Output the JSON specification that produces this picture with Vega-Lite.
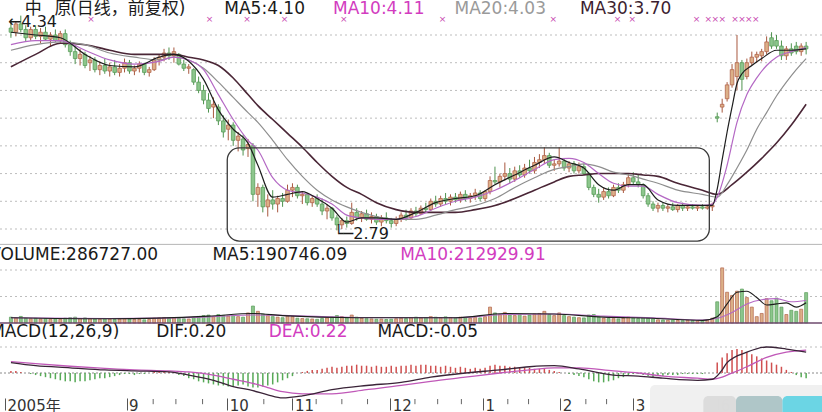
{
"$schema": "https://vega.github.io/schema/vega-lite/v6.json",
"width": 822, "height": 398, "padding": {"left": 0, "top": 0, "right": 0, "bottom": 14},
"autosize": {"type": "none"},
"background": "#ffffff",
"config": {"view": {"stroke": null}},
"resolve": {"scale": {"y": "independent", "color": "independent", "fill": "independent", "stroke": "independent"}, "axis": {"y": "independent"}},
"datasets": {
"bars": [
{"i":0,"o":4.25,"h":4.31,"l":4.18,"c":4.22,"v":55000,"m":0.02},
{"i":1,"o":4.22,"h":4.30,"l":4.19,"c":4.28,"v":48000,"m":0.02},
{"i":2,"o":4.28,"h":4.34,"l":4.22,"c":4.24,"v":62000,"m":0.01},
{"i":3,"o":4.24,"h":4.27,"l":4.15,"c":4.18,"v":45000,"m":0.0},
{"i":4,"o":4.18,"h":4.26,"l":4.16,"c":4.24,"v":40000,"m":-0.01},
{"i":5,"o":4.24,"h":4.27,"l":4.17,"c":4.19,"v":44000,"m":-0.02},
{"i":6,"o":4.19,"h":4.25,"l":4.14,"c":4.22,"v":38000,"m":-0.03},
{"i":7,"o":4.22,"h":4.26,"l":4.16,"c":4.17,"v":42000,"m":-0.04},
{"i":8,"o":4.17,"h":4.22,"l":4.12,"c":4.20,"v":36000,"m":-0.05},
{"i":9,"o":4.20,"h":4.24,"l":4.15,"c":4.16,"v":40000,"m":-0.06},
{"i":10,"o":4.16,"h":4.23,"l":4.14,"c":4.21,"v":35000,"m":-0.07},
{"i":11,"o":4.21,"h":4.24,"l":4.11,"c":4.13,"v":45000,"m":-0.08},
{"i":12,"o":4.13,"h":4.16,"l":4.05,"c":4.08,"v":50000,"m":-0.08},
{"i":13,"o":4.08,"h":4.12,"l":3.99,"c":4.03,"v":55000,"m":-0.09},
{"i":14,"o":4.03,"h":4.10,"l":3.98,"c":4.06,"v":42000,"m":-0.08},
{"i":15,"o":4.06,"h":4.08,"l":3.96,"c":3.98,"v":48000,"m":-0.08},
{"i":16,"o":4.00,"h":4.05,"l":3.94,"c":4.02,"v":40000,"m":-0.07},
{"i":17,"o":4.02,"h":4.04,"l":3.93,"c":3.95,"v":38000,"m":-0.06},
{"i":18,"o":3.95,"h":4.01,"l":3.91,"c":3.98,"v":35000,"m":-0.05},
{"i":19,"o":3.98,"h":4.03,"l":3.92,"c":3.94,"v":40000,"m":-0.05},
{"i":20,"o":3.94,"h":4.00,"l":3.90,"c":3.97,"v":36000,"m":-0.04},
{"i":21,"o":3.97,"h":4.02,"l":3.91,"c":3.93,"v":33000,"m":-0.03},
{"i":22,"o":3.93,"h":3.99,"l":3.90,"c":3.96,"v":38000,"m":-0.02},
{"i":23,"o":3.96,"h":4.03,"l":3.93,"c":4.00,"v":42000,"m":-0.01},
{"i":24,"o":4.00,"h":4.02,"l":3.92,"c":3.94,"v":36000,"m":-0.01},
{"i":25,"o":3.94,"h":3.98,"l":3.91,"c":3.96,"v":32000,"m":-0.02},
{"i":26,"o":3.96,"h":4.01,"l":3.93,"c":3.99,"v":35000,"m":-0.01},
{"i":27,"o":3.99,"h":4.00,"l":3.91,"c":3.93,"v":30000,"m":-0.01},
{"i":28,"o":3.93,"h":3.97,"l":3.90,"c":3.95,"v":34000,"m":0.0},
{"i":29,"o":3.95,"h":4.04,"l":3.94,"c":4.02,"v":45000,"m":0.01},
{"i":30,"o":4.02,"h":4.06,"l":3.98,"c":4.04,"v":48000,"m":0.01},
{"i":31,"o":4.04,"h":4.10,"l":4.01,"c":4.07,"v":52000,"m":0.02},
{"i":32,"o":4.07,"h":4.11,"l":4.02,"c":4.05,"v":46000,"m":0.01},
{"i":33,"o":4.05,"h":4.11,"l":4.00,"c":4.08,"v":50000,"m":0.0},
{"i":34,"o":4.06,"h":4.07,"l":3.98,"c":3.99,"v":44000,"m":-0.02},
{"i":35,"o":3.99,"h":4.02,"l":3.94,"c":3.96,"v":40000,"m":-0.03},
{"i":36,"o":3.96,"h":3.99,"l":3.92,"c":3.97,"v":38000,"m":-0.05},
{"i":37,"o":3.95,"h":3.96,"l":3.84,"c":3.86,"v":55000,"m":-0.06},
{"i":38,"o":3.86,"h":3.90,"l":3.78,"c":3.80,"v":62000,"m":-0.08},
{"i":39,"o":3.80,"h":3.84,"l":3.70,"c":3.73,"v":70000,"m":-0.09},
{"i":40,"o":3.73,"h":3.78,"l":3.64,"c":3.67,"v":75000,"m":-0.10},
{"i":41,"o":3.68,"h":3.75,"l":3.60,"c":3.70,"v":60000,"m":-0.11},
{"i":42,"o":3.68,"h":3.70,"l":3.55,"c":3.58,"v":80000,"m":-0.12},
{"i":43,"o":3.58,"h":3.62,"l":3.46,"c":3.50,"v":72000,"m":-0.12},
{"i":44,"o":3.52,"h":3.59,"l":3.44,"c":3.55,"v":65000,"m":-0.13},
{"i":45,"o":3.55,"h":3.57,"l":3.40,"c":3.44,"v":70000,"m":-0.13},
{"i":46,"o":3.44,"h":3.50,"l":3.36,"c":3.47,"v":60000,"m":-0.12},
{"i":47,"o":3.45,"h":3.48,"l":3.33,"c":3.37,"v":55000,"m":-0.11},
{"i":48,"o":3.38,"h":3.45,"l":3.32,"c":3.41,"v":95000,"m":-0.13},
{"i":49,"o":3.40,"h":3.42,"l":3.00,"c":3.05,"v":160000,"m":-0.14},
{"i":50,"o":3.05,"h":3.13,"l":2.96,"c":3.10,"v":110000,"m":-0.14},
{"i":51,"o":3.10,"h":3.12,"l":2.92,"c":2.96,"v":85000,"m":-0.13},
{"i":52,"o":2.96,"h":3.05,"l":2.89,"c":3.01,"v":70000,"m":-0.12},
{"i":53,"o":3.01,"h":3.08,"l":2.94,"c":2.98,"v":60000,"m":-0.11},
{"i":54,"o":2.98,"h":3.04,"l":2.92,"c":3.02,"v":55000,"m":-0.09},
{"i":55,"o":3.02,"h":3.06,"l":2.96,"c":3.00,"v":50000,"m":-0.07},
{"i":56,"o":3.00,"h":3.12,"l":2.99,"c":3.08,"v":65000,"m":-0.05},
{"i":57,"o":3.08,"h":3.13,"l":3.03,"c":3.10,"v":60000,"m":-0.03},
{"i":58,"o":3.10,"h":3.12,"l":3.02,"c":3.04,"v":45000,"m":0.0},
{"i":59,"o":3.04,"h":3.07,"l":2.98,"c":3.05,"v":42000,"m":0.01},
{"i":60,"o":3.05,"h":3.06,"l":2.97,"c":2.99,"v":40000,"m":0.02},
{"i":61,"o":2.99,"h":3.04,"l":2.96,"c":3.02,"v":38000,"m":0.03},
{"i":62,"o":3.02,"h":3.05,"l":2.96,"c":2.98,"v":35000,"m":0.03},
{"i":63,"o":2.98,"h":3.02,"l":2.90,"c":2.93,"v":42000,"m":0.04},
{"i":64,"o":2.93,"h":2.98,"l":2.87,"c":2.95,"v":48000,"m":0.05},
{"i":65,"o":2.95,"h":2.96,"l":2.86,"c":2.88,"v":55000,"m":0.06},
{"i":66,"o":2.88,"h":2.90,"l":2.79,"c":2.83,"v":70000,"m":0.05},
{"i":67,"o":2.83,"h":2.88,"l":2.80,"c":2.86,"v":60000,"m":0.06},
{"i":68,"o":2.86,"h":2.89,"l":2.81,"c":2.84,"v":50000,"m":0.07},
{"i":69,"o":2.84,"h":2.99,"l":2.83,"c":2.92,"v":75000,"m":0.07},
{"i":70,"o":2.92,"h":2.95,"l":2.86,"c":2.88,"v":55000,"m":0.08},
{"i":71,"o":2.88,"h":2.93,"l":2.85,"c":2.91,"v":45000,"m":0.07},
{"i":72,"o":2.91,"h":2.94,"l":2.86,"c":2.87,"v":40000,"m":0.07},
{"i":73,"o":2.87,"h":2.92,"l":2.84,"c":2.89,"v":38000,"m":0.06},
{"i":74,"o":2.89,"h":2.91,"l":2.83,"c":2.85,"v":35000,"m":0.07},
{"i":75,"o":2.85,"h":2.90,"l":2.82,"c":2.88,"v":36000,"m":0.06},
{"i":76,"o":2.88,"h":2.92,"l":2.84,"c":2.86,"v":33000,"m":0.06},
{"i":77,"o":2.86,"h":2.88,"l":2.81,"c":2.84,"v":35000,"m":0.07},
{"i":78,"o":2.84,"h":2.89,"l":2.82,"c":2.87,"v":40000,"m":0.06},
{"i":79,"o":2.87,"h":2.92,"l":2.85,"c":2.90,"v":45000,"m":0.07},
{"i":80,"o":2.90,"h":2.94,"l":2.86,"c":2.88,"v":42000,"m":0.07},
{"i":81,"o":2.88,"h":2.95,"l":2.87,"c":2.93,"v":50000,"m":0.08},
{"i":82,"o":2.93,"h":2.96,"l":2.89,"c":2.91,"v":55000,"m":0.07},
{"i":83,"o":2.91,"h":2.97,"l":2.90,"c":2.95,"v":48000,"m":0.08},
{"i":84,"o":2.95,"h":2.99,"l":2.92,"c":2.94,"v":52000,"m":0.08},
{"i":85,"o":2.94,"h":3.02,"l":2.93,"c":3.00,"v":60000,"m":0.07},
{"i":86,"o":3.00,"h":3.04,"l":2.96,"c":2.98,"v":55000,"m":0.07},
{"i":87,"o":2.98,"h":3.04,"l":2.96,"c":3.02,"v":50000,"m":0.06},
{"i":88,"o":3.02,"h":3.06,"l":2.98,"c":3.00,"v":58000,"m":0.07},
{"i":89,"o":3.00,"h":3.05,"l":2.97,"c":3.03,"v":52000,"m":0.06},
{"i":90,"o":3.03,"h":3.06,"l":2.99,"c":3.01,"v":48000,"m":0.05},
{"i":91,"o":3.01,"h":3.07,"l":2.99,"c":3.05,"v":55000,"m":0.06},
{"i":92,"o":3.05,"h":3.08,"l":3.00,"c":3.02,"v":50000,"m":0.05},
{"i":93,"o":3.02,"h":3.06,"l":2.99,"c":3.04,"v":45000,"m":0.04},
{"i":94,"o":3.04,"h":3.09,"l":3.01,"c":3.06,"v":52000,"m":0.05},
{"i":95,"o":3.06,"h":3.08,"l":3.00,"c":3.02,"v":48000,"m":0.04},
{"i":96,"o":3.02,"h":3.08,"l":3.00,"c":3.07,"v":60000,"m":0.05},
{"i":97,"o":3.07,"h":3.18,"l":3.05,"c":3.15,"v":150000,"m":0.07},
{"i":98,"o":3.15,"h":3.25,"l":3.12,"c":3.14,"v":95000,"m":0.08},
{"i":99,"o":3.14,"h":3.20,"l":3.10,"c":3.18,"v":80000,"m":0.07},
{"i":100,"o":3.18,"h":3.28,"l":3.15,"c":3.20,"v":100000,"m":0.07},
{"i":101,"o":3.20,"h":3.24,"l":3.13,"c":3.16,"v":75000,"m":0.06},
{"i":102,"o":3.16,"h":3.25,"l":3.14,"c":3.22,"v":70000,"m":0.06},
{"i":103,"o":3.22,"h":3.26,"l":3.17,"c":3.19,"v":80000,"m":0.05},
{"i":104,"o":3.19,"h":3.27,"l":3.17,"c":3.24,"v":65000,"m":0.05},
{"i":105,"o":3.24,"h":3.30,"l":3.20,"c":3.22,"v":75000,"m":0.05},
{"i":106,"o":3.22,"h":3.32,"l":3.20,"c":3.28,"v":85000,"m":0.04},
{"i":107,"o":3.28,"h":3.34,"l":3.24,"c":3.30,"v":90000,"m":0.04},
{"i":108,"o":3.30,"h":3.39,"l":3.27,"c":3.33,"v":110000,"m":0.04},
{"i":109,"o":3.33,"h":3.35,"l":3.24,"c":3.26,"v":80000,"m":0.03},
{"i":110,"o":3.26,"h":3.30,"l":3.22,"c":3.27,"v":70000,"m":0.02},
{"i":111,"o":3.27,"h":3.39,"l":3.25,"c":3.29,"v":95000,"m":0.01},
{"i":112,"o":3.29,"h":3.31,"l":3.22,"c":3.24,"v":70000,"m":0.0},
{"i":113,"o":3.24,"h":3.29,"l":3.21,"c":3.27,"v":60000,"m":-0.01},
{"i":114,"o":3.27,"h":3.29,"l":3.20,"c":3.22,"v":55000,"m":-0.02},
{"i":115,"o":3.22,"h":3.28,"l":3.20,"c":3.25,"v":50000,"m":-0.03},
{"i":116,"o":3.25,"h":3.27,"l":3.19,"c":3.20,"v":48000,"m":-0.04},
{"i":117,"o":3.20,"h":3.21,"l":3.08,"c":3.10,"v":75000,"m":-0.06},
{"i":118,"o":3.10,"h":3.12,"l":3.03,"c":3.05,"v":80000,"m":-0.08},
{"i":119,"o":3.05,"h":3.09,"l":2.99,"c":3.03,"v":55000,"m":-0.09},
{"i":120,"o":3.03,"h":3.10,"l":3.01,"c":3.07,"v":45000,"m":-0.09},
{"i":121,"o":3.07,"h":3.10,"l":3.02,"c":3.04,"v":42000,"m":-0.08},
{"i":122,"o":3.04,"h":3.12,"l":3.03,"c":3.10,"v":40000,"m":-0.07},
{"i":123,"o":3.10,"h":3.13,"l":3.06,"c":3.08,"v":38000,"m":-0.05},
{"i":124,"o":3.08,"h":3.14,"l":3.06,"c":3.12,"v":45000,"m":-0.04},
{"i":125,"o":3.12,"h":3.20,"l":3.10,"c":3.17,"v":55000,"m":-0.02},
{"i":126,"o":3.17,"h":3.21,"l":3.12,"c":3.14,"v":48000,"m":-0.01},
{"i":127,"o":3.14,"h":3.19,"l":3.10,"c":3.12,"v":42000,"m":-0.01},
{"i":128,"o":3.12,"h":3.13,"l":3.02,"c":3.04,"v":50000,"m":-0.02},
{"i":129,"o":3.04,"h":3.06,"l":2.96,"c":2.98,"v":45000,"m":-0.03},
{"i":130,"o":2.98,"h":3.00,"l":2.93,"c":2.95,"v":40000,"m":-0.04},
{"i":131,"o":2.95,"h":2.99,"l":2.92,"c":2.97,"v":30000,"m":-0.03},
{"i":132,"o":2.97,"h":2.99,"l":2.93,"c":2.95,"v":28000,"m":-0.03},
{"i":133,"o":2.95,"h":2.98,"l":2.92,"c":2.96,"v":25000,"m":-0.02},
{"i":134,"o":2.96,"h":2.99,"l":2.93,"c":2.94,"v":27000,"m":-0.02},
{"i":135,"o":2.94,"h":2.98,"l":2.92,"c":2.97,"v":24000,"m":-0.02},
{"i":136,"o":2.97,"h":2.99,"l":2.93,"c":2.95,"v":22000,"m":-0.01},
{"i":137,"o":2.95,"h":2.97,"l":2.93,"c":2.96,"v":25000,"m":-0.01},
{"i":138,"o":2.96,"h":2.98,"l":2.94,"c":2.95,"v":23000,"m":-0.01},
{"i":139,"o":2.95,"h":2.97,"l":2.93,"c":2.96,"v":20000,"m":-0.01},
{"i":140,"o":2.96,"h":2.98,"l":2.94,"c":2.95,"v":22000,"m":-0.01},
{"i":141,"o":2.95,"h":2.97,"l":2.94,"c":2.96,"v":26000,"m":0.0},
{"i":142,"o":2.96,"h":2.99,"l":2.93,"c":2.97,"v":45000,"m":0.0},
{"i":143,"o":3.61,"h":3.64,"l":3.57,"c":3.60,"v":200000,"m":0.10},
{"i":144,"o":3.68,"h":3.74,"l":3.64,"c":3.70,"v":520000,"m":0.15},
{"i":145,"o":3.74,"h":3.86,"l":3.72,"c":3.84,"v":290000,"m":0.19},
{"i":146,"o":3.84,"h":3.99,"l":3.82,"c":3.95,"v":260000,"m":0.22},
{"i":147,"o":3.90,"h":4.20,"l":3.80,"c":4.00,"v":300000,"m":0.23},
{"i":148,"o":4.00,"h":4.02,"l":3.80,"c":3.88,"v":320000,"m":0.22},
{"i":149,"o":3.90,"h":4.03,"l":3.88,"c":4.00,"v":240000,"m":0.20},
{"i":150,"o":4.00,"h":4.08,"l":3.98,"c":4.04,"v":150000,"m":0.18},
{"i":151,"o":4.04,"h":4.08,"l":4.00,"c":4.06,"v":60000,"m":0.16},
{"i":152,"o":4.05,"h":4.10,"l":4.01,"c":4.08,"v":90000,"m":0.14},
{"i":153,"o":4.08,"h":4.19,"l":4.06,"c":4.15,"v":230000,"m":0.12},
{"i":154,"o":4.18,"h":4.22,"l":4.10,"c":4.12,"v":210000,"m":0.10},
{"i":155,"o":4.16,"h":4.20,"l":4.10,"c":4.12,"v":235000,"m":0.08},
{"i":156,"o":4.12,"h":4.16,"l":4.02,"c":4.05,"v":150000,"m":0.06},
{"i":157,"o":4.05,"h":4.12,"l":4.02,"c":4.10,"v":80000,"m":0.03},
{"i":158,"o":4.10,"h":4.14,"l":4.05,"c":4.07,"v":120000,"m":0.01},
{"i":159,"o":4.12,"h":4.15,"l":4.06,"c":4.08,"v":110000,"m":-0.02},
{"i":160,"o":4.08,"h":4.14,"l":4.05,"c":4.12,"v":130000,"m":-0.04},
{"i":161,"o":4.12,"h":4.15,"l":4.06,"c":4.10,"v":286727,"m":-0.05}
],
"ma5": [{"i":0,"p":4.22},{"i":5,"p":4.20},{"i":10,"p":4.18},{"i":15,"p":4.06},{"i":20,"p":3.98},{"i":25,"p":3.97},{"i":30,"p":4.04},{"i":33,"p":4.06},{"i":36,"p":4.01},{"i":39,"p":3.88},{"i":42,"p":3.66},{"i":45,"p":3.52},{"i":48,"p":3.42},{"i":50,"p":3.26},{"i":53,"p":3.03},{"i":56,"p":3.05},{"i":59,"p":3.07},{"i":62,"p":3.02},{"i":65,"p":2.95},{"i":68,"p":2.85},{"i":71,"p":2.88},{"i":74,"p":2.88},{"i":78,"p":2.87},{"i":82,"p":2.92},{"i":86,"p":2.99},{"i":90,"p":3.02},{"i":94,"p":3.04},{"i":98,"p":3.12},{"i":102,"p":3.19},{"i":106,"p":3.26},{"i":110,"p":3.32},{"i":113,"p":3.28},{"i":116,"p":3.24},{"i":119,"p":3.12},{"i":122,"p":3.08},{"i":125,"p":3.12},{"i":128,"p":3.12},{"i":131,"p":3.01},{"i":135,"p":2.97},{"i":140,"p":2.97},{"i":142,"p":2.97},{"i":143,"p":3.09},{"i":144,"p":3.30},{"i":145,"p":3.50},{"i":146,"p":3.68},{"i":147,"p":3.85},{"i":148,"p":3.92},{"i":150,"p":3.98},{"i":152,"p":4.03},{"i":155,"p":4.09},{"i":158,"p":4.09},{"i":161,"p":4.10}],
"ma10": [{"i":0,"p":4.13},{"i":5,"p":4.16},{"i":10,"p":4.16},{"i":15,"p":4.09},{"i":20,"p":4.02},{"i":25,"p":3.99},{"i":30,"p":4.01},{"i":33,"p":4.04},{"i":36,"p":4.02},{"i":39,"p":3.95},{"i":42,"p":3.77},{"i":45,"p":3.59},{"i":48,"p":3.44},{"i":50,"p":3.37},{"i":53,"p":3.17},{"i":56,"p":3.08},{"i":59,"p":3.06},{"i":62,"p":3.03},{"i":65,"p":2.98},{"i":68,"p":2.90},{"i":71,"p":2.88},{"i":74,"p":2.87},{"i":78,"p":2.87},{"i":82,"p":2.89},{"i":86,"p":2.95},{"i":90,"p":3.00},{"i":94,"p":3.03},{"i":98,"p":3.08},{"i":102,"p":3.15},{"i":106,"p":3.23},{"i":110,"p":3.30},{"i":113,"p":3.31},{"i":116,"p":3.28},{"i":119,"p":3.20},{"i":122,"p":3.13},{"i":125,"p":3.11},{"i":128,"p":3.11},{"i":131,"p":3.05},{"i":135,"p":2.99},{"i":140,"p":2.97},{"i":142,"p":2.98},{"i":143,"p":3.03},{"i":145,"p":3.26},{"i":147,"p":3.57},{"i":149,"p":3.77},{"i":151,"p":3.89},{"i":153,"p":3.98},{"i":155,"p":4.04},{"i":158,"p":4.08},{"i":161,"p":4.11}],
"ma20": [{"i":0,"p":4.09},{"i":5,"p":4.13},{"i":10,"p":4.15},{"i":15,"p":4.13},{"i":20,"p":4.07},{"i":25,"p":4.04},{"i":30,"p":4.02},{"i":33,"p":4.04},{"i":36,"p":4.02},{"i":39,"p":3.96},{"i":42,"p":3.86},{"i":45,"p":3.75},{"i":48,"p":3.64},{"i":50,"p":3.57},{"i":53,"p":3.44},{"i":56,"p":3.30},{"i":59,"p":3.18},{"i":62,"p":3.08},{"i":65,"p":3.01},{"i":68,"p":2.96},{"i":71,"p":2.92},{"i":74,"p":2.89},{"i":78,"p":2.87},{"i":82,"p":2.87},{"i":86,"p":2.90},{"i":90,"p":2.94},{"i":94,"p":2.97},{"i":98,"p":3.02},{"i":102,"p":3.10},{"i":106,"p":3.17},{"i":110,"p":3.23},{"i":113,"p":3.25},{"i":116,"p":3.27},{"i":119,"p":3.25},{"i":122,"p":3.21},{"i":125,"p":3.19},{"i":128,"p":3.16},{"i":131,"p":3.13},{"i":135,"p":3.08},{"i":140,"p":3.05},{"i":143,"p":3.03},{"i":145,"p":3.12},{"i":147,"p":3.24},{"i":149,"p":3.37},{"i":151,"p":3.52},{"i":153,"p":3.64},{"i":155,"p":3.76},{"i":157,"p":3.86},{"i":159,"p":3.95},{"i":161,"p":4.03}],
"ma30": [{"i":0,"p":3.97},{"i":5,"p":4.06},{"i":10,"p":4.14},{"i":15,"p":4.13},{"i":20,"p":4.09},{"i":25,"p":4.06},{"i":30,"p":4.06},{"i":33,"p":4.06},{"i":36,"p":4.04},{"i":39,"p":4.02},{"i":42,"p":3.98},{"i":45,"p":3.89},{"i":48,"p":3.77},{"i":50,"p":3.69},{"i":53,"p":3.59},{"i":56,"p":3.49},{"i":59,"p":3.39},{"i":62,"p":3.28},{"i":65,"p":3.18},{"i":68,"p":3.10},{"i":71,"p":3.05},{"i":74,"p":2.99},{"i":78,"p":2.94},{"i":82,"p":2.92},{"i":86,"p":2.92},{"i":90,"p":2.92},{"i":94,"p":2.94},{"i":98,"p":2.97},{"i":102,"p":3.02},{"i":106,"p":3.08},{"i":110,"p":3.14},{"i":113,"p":3.18},{"i":116,"p":3.19},{"i":119,"p":3.20},{"i":122,"p":3.20},{"i":125,"p":3.20},{"i":128,"p":3.19},{"i":131,"p":3.18},{"i":135,"p":3.13},{"i":140,"p":3.08},{"i":143,"p":3.05},{"i":146,"p":3.12},{"i":149,"p":3.21},{"i":152,"p":3.31},{"i":155,"p":3.42},{"i":158,"p":3.55},{"i":161,"p":3.70}],
"vma5": [{"i":0,"v":50000},{"i":20,"v":40000},{"i":40,"v":65000},{"i":49,"v":90000},{"i":55,"v":70000},{"i":70,"v":50000},{"i":90,"v":50000},{"i":100,"v":90000},{"i":110,"v":85000},{"i":120,"v":55000},{"i":130,"v":45000},{"i":140,"v":25000},{"i":143,"v":60000},{"i":145,"v":180000},{"i":147,"v":290000},{"i":149,"v":300000},{"i":151,"v":240000},{"i":153,"v":170000},{"i":155,"v":180000},{"i":157,"v":190000},{"i":159,"v":150000},{"i":161,"v":190746}],
"vma10": [{"i":0,"v":50000},{"i":20,"v":42000},{"i":40,"v":58000},{"i":49,"v":75000},{"i":55,"v":72000},{"i":70,"v":52000},{"i":90,"v":50000},{"i":100,"v":80000},{"i":110,"v":85000},{"i":120,"v":65000},{"i":130,"v":48000},{"i":140,"v":28000},{"i":143,"v":45000},{"i":146,"v":100000},{"i":149,"v":180000},{"i":152,"v":220000},{"i":155,"v":230000},{"i":158,"v":200000},{"i":161,"v":212930}],
"dif": [{"i":0,"m":0.10},{"i":5,"m":0.07},{"i":12,"m":0.05},{"i":19,"m":0.03},{"i":25,"m":0.02},{"i":32,"m":0.01},{"i":36,"m":-0.02},{"i":41,"m":-0.07},{"i":45,"m":-0.13},{"i":49,"m":-0.17},{"i":52,"m":-0.21},{"i":55,"m":-0.24},{"i":59,"m":-0.22},{"i":65,"m":-0.16},{"i":72,"m":-0.12},{"i":79,"m":-0.09},{"i":85,"m":-0.04},{"i":92,"m":0.0},{"i":99,"m":0.03},{"i":105,"m":0.06},{"i":110,"m":0.07},{"i":115,"m":0.04},{"i":122,"m":-0.02},{"i":127,"m":-0.03},{"i":132,"m":-0.05},{"i":139,"m":-0.07},{"i":142,"m":-0.06},{"i":144,"m":0.03},{"i":145,"m":0.10},{"i":149,"m":0.20},{"i":153,"m":0.25},{"i":157,"m":0.23},{"i":161,"m":0.20}],
"dea": [{"i":0,"m":0.11},{"i":5,"m":0.09},{"i":12,"m":0.065},{"i":19,"m":0.045},{"i":25,"m":0.03},{"i":32,"m":0.02},{"i":36,"m":0.01},{"i":41,"m":-0.02},{"i":45,"m":-0.06},{"i":49,"m":-0.10},{"i":52,"m":-0.14},{"i":55,"m":-0.18},{"i":59,"m":-0.20},{"i":65,"m":-0.20},{"i":72,"m":-0.16},{"i":79,"m":-0.12},{"i":85,"m":-0.08},{"i":92,"m":-0.04},{"i":99,"m":0.0},{"i":105,"m":0.03},{"i":110,"m":0.05},{"i":115,"m":0.05},{"i":122,"m":0.02},{"i":127,"m":0.0},{"i":132,"m":-0.03},{"i":139,"m":-0.05},{"i":142,"m":-0.06},{"i":144,"m":-0.04},{"i":145,"m":-0.02},{"i":149,"m":0.06},{"i":153,"m":0.15},{"i":157,"m":0.20},{"i":161,"m":0.22}],
"hp": [{"i":2.8,"t":"中","s":"k"},{"i":8.8,"t":"原","s":"k"},{"i":12,"t":"(日线，前复权)","s":"k"},{"i":43.2,"t":"MA5:4.10","s":"k"},{"i":65.2,"t":"MA10:4.11","s":"m"},{"i":89.8,"t":"MA20:4.03","s":"g"},{"i":115.2,"t":"MA30:3.70","s":"d"}],
"hv": [{"i":-4.4,"t":"VOLUME:286727.00","s":"k"},{"i":40.8,"t":"MA5:190746.09","s":"k"},{"i":78.8,"t":"MA10:212929.91","s":"m"}],
"hm": [{"i":-4.2,"t":"MACD(12,26,9)","s":"k"},{"i":29.4,"t":"DIF:0.20","s":"k"},{"i":52.2,"t":"DEA:0.22","s":"m"},{"i":74.2,"t":"MACD:-0.05","s":"k"}],
"mk": [{"i":16.2},{"i":40.2},{"i":47.8},{"i":55.4},{"i":67.4},{"i":87.4},{"i":109.8},{"i":122.8},{"i":125.8},{"i":138.8},{"i":141.2},{"i":142.6},{"i":144},{"i":146.6},{"i":148},{"i":149.4},{"i":150.8}],
"lbl": [{"i":-0.6,"p":4.294,"t":"←4.34"},{"i":65.4,"p":2.764,"t":"└─2.79"}],
"box": [{"i":43.8,"i2":141.4,"p":3.385,"p2":2.713}],
"wm": [{"i":129.4,"i2":165,"m":-0.115,"m2":-0.45,"k":"a"},{"i":140.2,"i2":146.8,"m":-0.221,"m2":-0.45,"k":"b"},{"i":146.8,"i2":156.2,"m":-0.221,"m2":-0.45,"k":"c"},{"i":156.2,"i2":165,"m":-0.221,"m2":-0.45,"k":"d"}],
"minor": [{"i":28.8},{"i":33.4},{"i":38.8},{"i":51.2},{"i":61.8},{"i":67},{"i":72.2},{"i":81.8},{"i":86.4},{"i":91.2},{"i":100.6},{"i":104.8},{"i":116.4},{"i":120.6}],
"gp": [{"p":4.2},{"p":4.0},{"p":3.8},{"p":3.6},{"p":3.4},{"p":3.2},{"p":3.0},{"p":2.8}],
"gv": [{"v":250000},{"v":500000}],
"gm": [{"m":0.25}]
},
"layer": [
{"data": {"name": "gp"}, "mark": {"type": "rule", "strokeDash": [2, 3], "color": "#bdbdbd", "strokeWidth": 1},
 "encoding": {"y": {"field": "p", "type": "quantitative", "scale": {"domain": [2.8, 4.2], "range": [229, 35], "nice": false, "zero": false}, "axis": null}}},
{"data": {"name": "gv"}, "mark": {"type": "rule", "strokeDash": [2, 3], "color": "#bdbdbd", "strokeWidth": 1},
 "encoding": {"y": {"field": "v", "type": "quantitative", "scale": {"domain": [0, 500000], "range": [323, 270], "nice": false, "zero": false}, "axis": null}}},
{"data": {"name": "gm"}, "mark": {"type": "rule", "strokeDash": [2, 3], "color": "#bdbdbd", "strokeWidth": 1},
 "encoding": {"y": {"field": "m", "type": "quantitative", "scale": {"domain": [0, 0.25], "range": [373, 347], "nice": false, "zero": false}, "axis": null}}},
{"data": {"values": [{"m": 0}]}, "mark": {"type": "rule", "strokeDash": [2, 2], "color": "#8a8a8a", "strokeWidth": 1},
 "encoding": {"y": {"field": "m", "type": "quantitative", "scale": {"domain": [0, 0.25], "range": [373, 347], "nice": false, "zero": false}, "axis": null}}},
{"data": {"values": [{"p": 2.689}]}, "mark": {"type": "rule", "color": "#b5b5b5", "strokeWidth": 1},
 "encoding": {"y": {"field": "p", "type": "quantitative", "scale": {"domain": [2.8, 4.2], "range": [229, 35], "nice": false, "zero": false}, "axis": null}}},
{"data": {"name": "bars"}, "mark": {"type": "rule", "strokeWidth": 1},
 "encoding": {
  "x": {"field": "i", "type": "quantitative", "scale": {"domain": [-1.2, 163.2], "nice": false, "zero": false}, "axis": {"values": [-1.2, 23.4, 43.8, 57, 76.8, 95.6, 111.2, 126, 143.2], "title": null, "domain": false, "grid": false, "tickSize": 12, "tickColor": "#555555", "tickWidth": 1, "labelAlign": "left", "labelBaseline": "top", "labelPadding": -12, "labelOffset": 2, "labelFont": "DejaVu Sans, Noto Sans CJK SC", "labelFontSize": 15, "labelColor": "#333333", "labelOverlap": false, "labelBound": false, "labelFlush": false, "labelExpr": "datum.value < 0 ? '2005年' : datum.value < 30 ? '9' : datum.value < 50 ? '10' : datum.value < 60 ? '11' : datum.value < 80 ? '12' : datum.value < 100 ? '1' : datum.value < 115 ? '2' : datum.value < 130 ? '3' : '6'"}},
  "y": {"field": "l", "type": "quantitative", "scale": {"domain": [2.8, 4.2], "range": [229, 35], "nice": false, "zero": false}, "axis": null},
  "y2": {"field": "h"},
  "color": {"condition": {"test": "datum.c >= datum.o", "value": "#a8583f"}, "value": "#4e924e"}}},
{"data": {"name": "bars"}, "mark": {"type": "bar", "size": 3.6, "strokeWidth": 0.8, "orient": "vertical"},
 "encoding": {
  "x": {"field": "i", "type": "quantitative", "scale": {"domain": [-1.2, 163.2], "nice": false, "zero": false}, "axis": {"values": [-1.2, 23.4, 43.8, 57, 76.8, 95.6, 111.2, 126, 143.2], "title": null, "domain": false, "grid": false, "tickSize": 12, "tickColor": "#555555", "tickWidth": 1, "labelAlign": "left", "labelBaseline": "top", "labelPadding": -12, "labelOffset": 2, "labelFont": "DejaVu Sans, Noto Sans CJK SC", "labelFontSize": 15, "labelColor": "#333333", "labelOverlap": false, "labelBound": false, "labelFlush": false, "labelExpr": "datum.value < 0 ? '2005年' : datum.value < 30 ? '9' : datum.value < 50 ? '10' : datum.value < 60 ? '11' : datum.value < 80 ? '12' : datum.value < 100 ? '1' : datum.value < 115 ? '2' : datum.value < 130 ? '3' : '6'"}},
  "y": {"field": "o", "type": "quantitative", "scale": {"domain": [2.8, 4.2], "range": [229, 35], "nice": false, "zero": false}, "axis": null},
  "y2": {"field": "c"},
  "fill": {"condition": {"test": "datum.c >= datum.o", "value": "#dcb088"}, "value": "#8cc68c"},
  "stroke": {"condition": {"test": "datum.c >= datum.o", "value": "#b4644c"}, "value": "#5a9e5a"}}},
{"data": {"name": "ma30"}, "mark": {"type": "line", "color": "#4a2636", "strokeWidth": 1.6, "interpolate": "monotone"},
 "encoding": {
  "x": {"field": "i", "type": "quantitative", "scale": {"domain": [-1.2, 163.2], "nice": false, "zero": false}, "axis": {"values": [-1.2, 23.4, 43.8, 57, 76.8, 95.6, 111.2, 126, 143.2], "title": null, "domain": false, "grid": false, "tickSize": 12, "tickColor": "#555555", "tickWidth": 1, "labelAlign": "left", "labelBaseline": "top", "labelPadding": -12, "labelOffset": 2, "labelFont": "DejaVu Sans, Noto Sans CJK SC", "labelFontSize": 15, "labelColor": "#333333", "labelOverlap": false, "labelBound": false, "labelFlush": false, "labelExpr": "datum.value < 0 ? '2005年' : datum.value < 30 ? '9' : datum.value < 50 ? '10' : datum.value < 60 ? '11' : datum.value < 80 ? '12' : datum.value < 100 ? '1' : datum.value < 115 ? '2' : datum.value < 130 ? '3' : '6'"}},
  "y": {"field": "p", "type": "quantitative", "scale": {"domain": [2.8, 4.2], "range": [229, 35], "nice": false, "zero": false}, "axis": null}}},
{"data": {"name": "ma20"}, "mark": {"type": "line", "color": "#8e8e8e", "strokeWidth": 1.2, "interpolate": "monotone"},
 "encoding": {
  "x": {"field": "i", "type": "quantitative", "scale": {"domain": [-1.2, 163.2], "nice": false, "zero": false}, "axis": {"values": [-1.2, 23.4, 43.8, 57, 76.8, 95.6, 111.2, 126, 143.2], "title": null, "domain": false, "grid": false, "tickSize": 12, "tickColor": "#555555", "tickWidth": 1, "labelAlign": "left", "labelBaseline": "top", "labelPadding": -12, "labelOffset": 2, "labelFont": "DejaVu Sans, Noto Sans CJK SC", "labelFontSize": 15, "labelColor": "#333333", "labelOverlap": false, "labelBound": false, "labelFlush": false, "labelExpr": "datum.value < 0 ? '2005年' : datum.value < 30 ? '9' : datum.value < 50 ? '10' : datum.value < 60 ? '11' : datum.value < 80 ? '12' : datum.value < 100 ? '1' : datum.value < 115 ? '2' : datum.value < 130 ? '3' : '6'"}},
  "y": {"field": "p", "type": "quantitative", "scale": {"domain": [2.8, 4.2], "range": [229, 35], "nice": false, "zero": false}, "axis": null}}},
{"data": {"name": "ma10"}, "mark": {"type": "line", "color": "#b468c4", "strokeWidth": 1.2, "interpolate": "monotone"},
 "encoding": {
  "x": {"field": "i", "type": "quantitative", "scale": {"domain": [-1.2, 163.2], "nice": false, "zero": false}, "axis": {"values": [-1.2, 23.4, 43.8, 57, 76.8, 95.6, 111.2, 126, 143.2], "title": null, "domain": false, "grid": false, "tickSize": 12, "tickColor": "#555555", "tickWidth": 1, "labelAlign": "left", "labelBaseline": "top", "labelPadding": -12, "labelOffset": 2, "labelFont": "DejaVu Sans, Noto Sans CJK SC", "labelFontSize": 15, "labelColor": "#333333", "labelOverlap": false, "labelBound": false, "labelFlush": false, "labelExpr": "datum.value < 0 ? '2005年' : datum.value < 30 ? '9' : datum.value < 50 ? '10' : datum.value < 60 ? '11' : datum.value < 80 ? '12' : datum.value < 100 ? '1' : datum.value < 115 ? '2' : datum.value < 130 ? '3' : '6'"}},
  "y": {"field": "p", "type": "quantitative", "scale": {"domain": [2.8, 4.2], "range": [229, 35], "nice": false, "zero": false}, "axis": null}}},
{"data": {"name": "ma5"}, "mark": {"type": "line", "color": "#1e1e1e", "strokeWidth": 1.2, "interpolate": "monotone"},
 "encoding": {
  "x": {"field": "i", "type": "quantitative", "scale": {"domain": [-1.2, 163.2], "nice": false, "zero": false}, "axis": {"values": [-1.2, 23.4, 43.8, 57, 76.8, 95.6, 111.2, 126, 143.2], "title": null, "domain": false, "grid": false, "tickSize": 12, "tickColor": "#555555", "tickWidth": 1, "labelAlign": "left", "labelBaseline": "top", "labelPadding": -12, "labelOffset": 2, "labelFont": "DejaVu Sans, Noto Sans CJK SC", "labelFontSize": 15, "labelColor": "#333333", "labelOverlap": false, "labelBound": false, "labelFlush": false, "labelExpr": "datum.value < 0 ? '2005年' : datum.value < 30 ? '9' : datum.value < 50 ? '10' : datum.value < 60 ? '11' : datum.value < 80 ? '12' : datum.value < 100 ? '1' : datum.value < 115 ? '2' : datum.value < 130 ? '3' : '6'"}},
  "y": {"field": "p", "type": "quantitative", "scale": {"domain": [2.8, 4.2], "range": [229, 35], "nice": false, "zero": false}, "axis": null}}},
{"data": {"name": "box"}, "mark": {"type": "rect", "cornerRadius": 12, "fillOpacity": 0, "fill": "#ffffff", "stroke": "#3a3a3a", "strokeWidth": 1.3},
 "encoding": {
  "x": {"field": "i", "type": "quantitative", "scale": {"domain": [-1.2, 163.2], "nice": false, "zero": false}, "axis": {"values": [-1.2, 23.4, 43.8, 57, 76.8, 95.6, 111.2, 126, 143.2], "title": null, "domain": false, "grid": false, "tickSize": 12, "tickColor": "#555555", "tickWidth": 1, "labelAlign": "left", "labelBaseline": "top", "labelPadding": -12, "labelOffset": 2, "labelFont": "DejaVu Sans, Noto Sans CJK SC", "labelFontSize": 15, "labelColor": "#333333", "labelOverlap": false, "labelBound": false, "labelFlush": false, "labelExpr": "datum.value < 0 ? '2005年' : datum.value < 30 ? '9' : datum.value < 50 ? '10' : datum.value < 60 ? '11' : datum.value < 80 ? '12' : datum.value < 100 ? '1' : datum.value < 115 ? '2' : datum.value < 130 ? '3' : '6'"}},
  "x2": {"field": "i2"},
  "y": {"field": "p", "type": "quantitative", "scale": {"domain": [2.8, 4.2], "range": [229, 35], "nice": false, "zero": false}, "axis": null},
  "y2": {"field": "p2"}}},
{"data": {"name": "lbl"}, "mark": {"type": "text", "align": "left", "baseline": "middle", "font": "DejaVu Sans", "fontSize": 16, "color": "#1a1a1a"},
 "encoding": {
  "x": {"field": "i", "type": "quantitative", "scale": {"domain": [-1.2, 163.2], "nice": false, "zero": false}, "axis": {"values": [-1.2, 23.4, 43.8, 57, 76.8, 95.6, 111.2, 126, 143.2], "title": null, "domain": false, "grid": false, "tickSize": 12, "tickColor": "#555555", "tickWidth": 1, "labelAlign": "left", "labelBaseline": "top", "labelPadding": -12, "labelOffset": 2, "labelFont": "DejaVu Sans, Noto Sans CJK SC", "labelFontSize": 15, "labelColor": "#333333", "labelOverlap": false, "labelBound": false, "labelFlush": false, "labelExpr": "datum.value < 0 ? '2005年' : datum.value < 30 ? '9' : datum.value < 50 ? '10' : datum.value < 60 ? '11' : datum.value < 80 ? '12' : datum.value < 100 ? '1' : datum.value < 115 ? '2' : datum.value < 130 ? '3' : '6'"}},
  "y": {"field": "p", "type": "quantitative", "scale": {"domain": [2.8, 4.2], "range": [229, 35], "nice": false, "zero": false}, "axis": null},
  "text": {"field": "t"}}},
{"data": {"name": "hp"}, "mark": {"type": "text", "align": "left", "baseline": "middle", "font": "DejaVu Sans, Noto Sans CJK SC", "fontSize": 17},
 "encoding": {
  "x": {"field": "i", "type": "quantitative", "scale": {"domain": [-1.2, 163.2], "nice": false, "zero": false}, "axis": {"values": [-1.2, 23.4, 43.8, 57, 76.8, 95.6, 111.2, 126, 143.2], "title": null, "domain": false, "grid": false, "tickSize": 12, "tickColor": "#555555", "tickWidth": 1, "labelAlign": "left", "labelBaseline": "top", "labelPadding": -12, "labelOffset": 2, "labelFont": "DejaVu Sans, Noto Sans CJK SC", "labelFontSize": 15, "labelColor": "#333333", "labelOverlap": false, "labelBound": false, "labelFlush": false, "labelExpr": "datum.value < 0 ? '2005年' : datum.value < 30 ? '9' : datum.value < 50 ? '10' : datum.value < 60 ? '11' : datum.value < 80 ? '12' : datum.value < 100 ? '1' : datum.value < 115 ? '2' : datum.value < 130 ? '3' : '6'"}},
  "y": {"datum": 4.39, "type": "quantitative", "scale": {"domain": [2.8, 4.2], "range": [229, 35], "nice": false, "zero": false}, "axis": null},
  "text": {"field": "t"},
  "color": {"field": "s", "type": "nominal", "scale": {"domain": ["k", "m", "g", "d"], "range": ["#1a1a1a", "#d23cc0", "#9a9a9a", "#3c1e30"]}, "legend": null}}},
{"data": {"name": "mk"}, "mark": {"type": "text", "align": "center", "baseline": "middle", "font": "DejaVu Sans", "fontSize": 9, "color": "#c848b0", "text": "×"},
 "encoding": {
  "x": {"field": "i", "type": "quantitative", "scale": {"domain": [-1.2, 163.2], "nice": false, "zero": false}, "axis": {"values": [-1.2, 23.4, 43.8, 57, 76.8, 95.6, 111.2, 126, 143.2], "title": null, "domain": false, "grid": false, "tickSize": 12, "tickColor": "#555555", "tickWidth": 1, "labelAlign": "left", "labelBaseline": "top", "labelPadding": -12, "labelOffset": 2, "labelFont": "DejaVu Sans, Noto Sans CJK SC", "labelFontSize": 15, "labelColor": "#333333", "labelOverlap": false, "labelBound": false, "labelFlush": false, "labelExpr": "datum.value < 0 ? '2005年' : datum.value < 30 ? '9' : datum.value < 50 ? '10' : datum.value < 60 ? '11' : datum.value < 80 ? '12' : datum.value < 100 ? '1' : datum.value < 115 ? '2' : datum.value < 130 ? '3' : '6'"}},
  "y": {"datum": 4.318, "type": "quantitative", "scale": {"domain": [2.8, 4.2], "range": [229, 35], "nice": false, "zero": false}, "axis": null}}},
{"data": {"name": "bars"}, "mark": {"type": "bar", "size": 3, "strokeWidth": 0.7, "orient": "vertical"},
 "encoding": {
  "x": {"field": "i", "type": "quantitative", "scale": {"domain": [-1.2, 163.2], "nice": false, "zero": false}, "axis": {"values": [-1.2, 23.4, 43.8, 57, 76.8, 95.6, 111.2, 126, 143.2], "title": null, "domain": false, "grid": false, "tickSize": 12, "tickColor": "#555555", "tickWidth": 1, "labelAlign": "left", "labelBaseline": "top", "labelPadding": -12, "labelOffset": 2, "labelFont": "DejaVu Sans, Noto Sans CJK SC", "labelFontSize": 15, "labelColor": "#333333", "labelOverlap": false, "labelBound": false, "labelFlush": false, "labelExpr": "datum.value < 0 ? '2005年' : datum.value < 30 ? '9' : datum.value < 50 ? '10' : datum.value < 60 ? '11' : datum.value < 80 ? '12' : datum.value < 100 ? '1' : datum.value < 115 ? '2' : datum.value < 130 ? '3' : '6'"}},
  "y": {"field": "v", "type": "quantitative", "scale": {"domain": [0, 500000], "range": [323, 270], "nice": false, "zero": false}, "axis": null},
  "y2": {"datum": 0},
  "fill": {"condition": {"test": "datum.c >= datum.o", "value": "#dcb088"}, "value": "#8cc68c"},
  "stroke": {"condition": {"test": "datum.c >= datum.o", "value": "#b4644c"}, "value": "#5a9e5a"}}},
{"data": {"values": [{"v": 0}]}, "mark": {"type": "rule", "color": "#6e4a6e", "strokeWidth": 1.4},
 "encoding": {"y": {"field": "v", "type": "quantitative", "scale": {"domain": [0, 500000], "range": [323, 270], "nice": false, "zero": false}, "axis": null}}},
{"data": {"name": "vma10"}, "mark": {"type": "line", "color": "#b468c4", "strokeWidth": 1.1, "interpolate": "monotone"},
 "encoding": {
  "x": {"field": "i", "type": "quantitative", "scale": {"domain": [-1.2, 163.2], "nice": false, "zero": false}, "axis": {"values": [-1.2, 23.4, 43.8, 57, 76.8, 95.6, 111.2, 126, 143.2], "title": null, "domain": false, "grid": false, "tickSize": 12, "tickColor": "#555555", "tickWidth": 1, "labelAlign": "left", "labelBaseline": "top", "labelPadding": -12, "labelOffset": 2, "labelFont": "DejaVu Sans, Noto Sans CJK SC", "labelFontSize": 15, "labelColor": "#333333", "labelOverlap": false, "labelBound": false, "labelFlush": false, "labelExpr": "datum.value < 0 ? '2005年' : datum.value < 30 ? '9' : datum.value < 50 ? '10' : datum.value < 60 ? '11' : datum.value < 80 ? '12' : datum.value < 100 ? '1' : datum.value < 115 ? '2' : datum.value < 130 ? '3' : '6'"}},
  "y": {"field": "v", "type": "quantitative", "scale": {"domain": [0, 500000], "range": [323, 270], "nice": false, "zero": false}, "axis": null}}},
{"data": {"name": "vma5"}, "mark": {"type": "line", "color": "#1e1e1e", "strokeWidth": 1.1, "interpolate": "monotone"},
 "encoding": {
  "x": {"field": "i", "type": "quantitative", "scale": {"domain": [-1.2, 163.2], "nice": false, "zero": false}, "axis": {"values": [-1.2, 23.4, 43.8, 57, 76.8, 95.6, 111.2, 126, 143.2], "title": null, "domain": false, "grid": false, "tickSize": 12, "tickColor": "#555555", "tickWidth": 1, "labelAlign": "left", "labelBaseline": "top", "labelPadding": -12, "labelOffset": 2, "labelFont": "DejaVu Sans, Noto Sans CJK SC", "labelFontSize": 15, "labelColor": "#333333", "labelOverlap": false, "labelBound": false, "labelFlush": false, "labelExpr": "datum.value < 0 ? '2005年' : datum.value < 30 ? '9' : datum.value < 50 ? '10' : datum.value < 60 ? '11' : datum.value < 80 ? '12' : datum.value < 100 ? '1' : datum.value < 115 ? '2' : datum.value < 130 ? '3' : '6'"}},
  "y": {"field": "v", "type": "quantitative", "scale": {"domain": [0, 500000], "range": [323, 270], "nice": false, "zero": false}, "axis": null}}},
{"data": {"name": "hv"}, "mark": {"type": "text", "align": "left", "baseline": "middle", "font": "DejaVu Sans", "fontSize": 17},
 "encoding": {
  "x": {"field": "i", "type": "quantitative", "scale": {"domain": [-1.2, 163.2], "nice": false, "zero": false}, "axis": {"values": [-1.2, 23.4, 43.8, 57, 76.8, 95.6, 111.2, 126, 143.2], "title": null, "domain": false, "grid": false, "tickSize": 12, "tickColor": "#555555", "tickWidth": 1, "labelAlign": "left", "labelBaseline": "top", "labelPadding": -12, "labelOffset": 2, "labelFont": "DejaVu Sans, Noto Sans CJK SC", "labelFontSize": 15, "labelColor": "#333333", "labelOverlap": false, "labelBound": false, "labelFlush": false, "labelExpr": "datum.value < 0 ? '2005年' : datum.value < 30 ? '9' : datum.value < 50 ? '10' : datum.value < 60 ? '11' : datum.value < 80 ? '12' : datum.value < 100 ? '1' : datum.value < 115 ? '2' : datum.value < 130 ? '3' : '6'"}},
  "y": {"datum": 641000, "type": "quantitative", "scale": {"domain": [0, 500000], "range": [323, 270], "nice": false, "zero": false}, "axis": null},
  "text": {"field": "t"},
  "color": {"field": "s", "type": "nominal", "scale": {"domain": ["k", "m"], "range": ["#1a1a1a", "#d23cc0"]}, "legend": null}}},
{"data": {"name": "bars"}, "mark": {"type": "rule", "strokeWidth": 1.5},
 "encoding": {
  "x": {"field": "i", "type": "quantitative", "scale": {"domain": [-1.2, 163.2], "nice": false, "zero": false}, "axis": {"values": [-1.2, 23.4, 43.8, 57, 76.8, 95.6, 111.2, 126, 143.2], "title": null, "domain": false, "grid": false, "tickSize": 12, "tickColor": "#555555", "tickWidth": 1, "labelAlign": "left", "labelBaseline": "top", "labelPadding": -12, "labelOffset": 2, "labelFont": "DejaVu Sans, Noto Sans CJK SC", "labelFontSize": 15, "labelColor": "#333333", "labelOverlap": false, "labelBound": false, "labelFlush": false, "labelExpr": "datum.value < 0 ? '2005年' : datum.value < 30 ? '9' : datum.value < 50 ? '10' : datum.value < 60 ? '11' : datum.value < 80 ? '12' : datum.value < 100 ? '1' : datum.value < 115 ? '2' : datum.value < 130 ? '3' : '6'"}},
  "y": {"field": "m", "type": "quantitative", "scale": {"domain": [0, 0.25], "range": [373, 347], "nice": false, "zero": false}, "axis": null},
  "y2": {"datum": 0},
  "color": {"condition": {"test": "datum.m >= 0", "value": "#d05050"}, "value": "#58aa58"}}},
{"data": {"name": "dea"}, "mark": {"type": "line", "color": "#c058b8", "strokeWidth": 1.3, "interpolate": "monotone"},
 "encoding": {
  "x": {"field": "i", "type": "quantitative", "scale": {"domain": [-1.2, 163.2], "nice": false, "zero": false}, "axis": {"values": [-1.2, 23.4, 43.8, 57, 76.8, 95.6, 111.2, 126, 143.2], "title": null, "domain": false, "grid": false, "tickSize": 12, "tickColor": "#555555", "tickWidth": 1, "labelAlign": "left", "labelBaseline": "top", "labelPadding": -12, "labelOffset": 2, "labelFont": "DejaVu Sans, Noto Sans CJK SC", "labelFontSize": 15, "labelColor": "#333333", "labelOverlap": false, "labelBound": false, "labelFlush": false, "labelExpr": "datum.value < 0 ? '2005年' : datum.value < 30 ? '9' : datum.value < 50 ? '10' : datum.value < 60 ? '11' : datum.value < 80 ? '12' : datum.value < 100 ? '1' : datum.value < 115 ? '2' : datum.value < 130 ? '3' : '6'"}},
  "y": {"field": "m", "type": "quantitative", "scale": {"domain": [0, 0.25], "range": [373, 347], "nice": false, "zero": false}, "axis": null}}},
{"data": {"name": "dif"}, "mark": {"type": "line", "color": "#3a2438", "strokeWidth": 1.3, "interpolate": "monotone"},
 "encoding": {
  "x": {"field": "i", "type": "quantitative", "scale": {"domain": [-1.2, 163.2], "nice": false, "zero": false}, "axis": {"values": [-1.2, 23.4, 43.8, 57, 76.8, 95.6, 111.2, 126, 143.2], "title": null, "domain": false, "grid": false, "tickSize": 12, "tickColor": "#555555", "tickWidth": 1, "labelAlign": "left", "labelBaseline": "top", "labelPadding": -12, "labelOffset": 2, "labelFont": "DejaVu Sans, Noto Sans CJK SC", "labelFontSize": 15, "labelColor": "#333333", "labelOverlap": false, "labelBound": false, "labelFlush": false, "labelExpr": "datum.value < 0 ? '2005年' : datum.value < 30 ? '9' : datum.value < 50 ? '10' : datum.value < 60 ? '11' : datum.value < 80 ? '12' : datum.value < 100 ? '1' : datum.value < 115 ? '2' : datum.value < 130 ? '3' : '6'"}},
  "y": {"field": "m", "type": "quantitative", "scale": {"domain": [0, 0.25], "range": [373, 347], "nice": false, "zero": false}, "axis": null}}},
{"data": {"name": "hm"}, "mark": {"type": "text", "align": "left", "baseline": "middle", "font": "DejaVu Sans", "fontSize": 17},
 "encoding": {
  "x": {"field": "i", "type": "quantitative", "scale": {"domain": [-1.2, 163.2], "nice": false, "zero": false}, "axis": {"values": [-1.2, 23.4, 43.8, 57, 76.8, 95.6, 111.2, 126, 143.2], "title": null, "domain": false, "grid": false, "tickSize": 12, "tickColor": "#555555", "tickWidth": 1, "labelAlign": "left", "labelBaseline": "top", "labelPadding": -12, "labelOffset": 2, "labelFont": "DejaVu Sans, Noto Sans CJK SC", "labelFontSize": 15, "labelColor": "#333333", "labelOverlap": false, "labelBound": false, "labelFlush": false, "labelExpr": "datum.value < 0 ? '2005年' : datum.value < 30 ? '9' : datum.value < 50 ? '10' : datum.value < 60 ? '11' : datum.value < 80 ? '12' : datum.value < 100 ? '1' : datum.value < 115 ? '2' : datum.value < 130 ? '3' : '6'"}},
  "y": {"datum": 0.394, "type": "quantitative", "scale": {"domain": [0, 0.25], "range": [373, 347], "nice": false, "zero": false}, "axis": null},
  "text": {"field": "t"},
  "color": {"field": "s", "type": "nominal", "scale": {"domain": ["k", "m"], "range": ["#1a1a1a", "#d23cc0"]}, "legend": null}}},
{"data": {"name": "minor"}, "mark": {"type": "rule", "color": "#666666", "strokeWidth": 1},
 "encoding": {
  "x": {"field": "i", "type": "quantitative", "scale": {"domain": [-1.2, 163.2], "nice": false, "zero": false}, "axis": {"values": [-1.2, 23.4, 43.8, 57, 76.8, 95.6, 111.2, 126, 143.2], "title": null, "domain": false, "grid": false, "tickSize": 12, "tickColor": "#555555", "tickWidth": 1, "labelAlign": "left", "labelBaseline": "top", "labelPadding": -12, "labelOffset": 2, "labelFont": "DejaVu Sans, Noto Sans CJK SC", "labelFontSize": 15, "labelColor": "#333333", "labelOverlap": false, "labelBound": false, "labelFlush": false, "labelExpr": "datum.value < 0 ? '2005年' : datum.value < 30 ? '9' : datum.value < 50 ? '10' : datum.value < 60 ? '11' : datum.value < 80 ? '12' : datum.value < 100 ? '1' : datum.value < 115 ? '2' : datum.value < 130 ? '3' : '6'"}},
  "y": {"datum": -0.25, "type": "quantitative", "scale": {"domain": [0, 0.25], "range": [373, 347], "nice": false, "zero": false}, "axis": null},
  "y2": {"datum": -0.3}}},
{"data": {"name": "wm"}, "mark": {"type": "rect", "cornerRadius": 5, "opacity": 0.92},
 "encoding": {
  "x": {"field": "i", "type": "quantitative", "scale": {"domain": [-1.2, 163.2], "nice": false, "zero": false}, "axis": {"values": [-1.2, 23.4, 43.8, 57, 76.8, 95.6, 111.2, 126, 143.2], "title": null, "domain": false, "grid": false, "tickSize": 12, "tickColor": "#555555", "tickWidth": 1, "labelAlign": "left", "labelBaseline": "top", "labelPadding": -12, "labelOffset": 2, "labelFont": "DejaVu Sans, Noto Sans CJK SC", "labelFontSize": 15, "labelColor": "#333333", "labelOverlap": false, "labelBound": false, "labelFlush": false, "labelExpr": "datum.value < 0 ? '2005年' : datum.value < 30 ? '9' : datum.value < 50 ? '10' : datum.value < 60 ? '11' : datum.value < 80 ? '12' : datum.value < 100 ? '1' : datum.value < 115 ? '2' : datum.value < 130 ? '3' : '6'"}},
  "x2": {"field": "i2"},
  "y": {"field": "m", "type": "quantitative", "scale": {"domain": [0, 0.25], "range": [373, 347], "nice": false, "zero": false}, "axis": null},
  "y2": {"field": "m2"},
  "fill": {"field": "k", "type": "nominal", "scale": {"domain": ["a", "b", "c", "d"], "range": ["#efefef", "#dadada", "#a9c2c4", "#5fd3e3"]}, "legend": null}}}
]
}
